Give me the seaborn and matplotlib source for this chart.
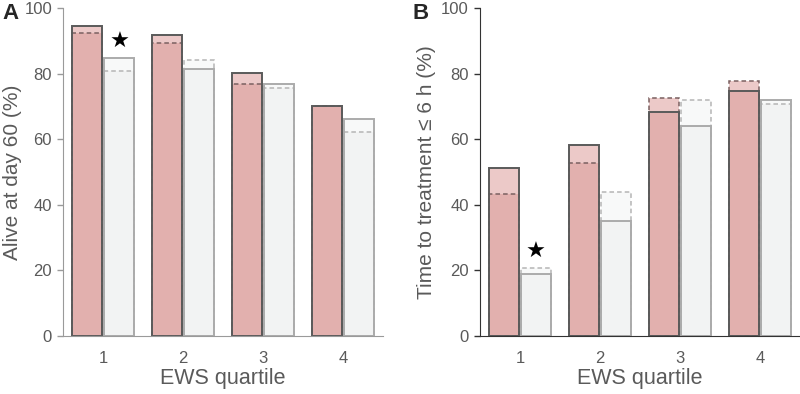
import numpy as np
import pandas as pd
import seaborn as sns
from matplotlib import pyplot as plt

# values (percent)
quartiles = ['1', '2', '3', '4']
groups = ['Group 1', 'Group 2']

# panel A: alive at day 60
alive_solid_g1 = [94.6, 91.8, 80.3, 70.1]
alive_dashed_g1 = [92.3, 89.4, 76.9, 70.1]
alive_solid_g2 = [84.6, 81.4, 76.8, 66.1]
alive_dashed_g2 = [80.9, 84.2, 75.5, 62.1]

# panel B: time to treatment <= 6 h
ttt_solid_g1 = [51.1, 58.2, 68.3, 74.8]
ttt_dashed_g1 = [43.4, 52.7, 72.4, 77.6]
ttt_solid_g2 = [18.9, 35.2, 63.9, 71.9]
ttt_dashed_g2 = [20.8, 43.9, 71.9, 70.7]

star_a = 89.5
star_b = 25.7

sns.set_style('ticks')
plt.rcParams['font.family'] = ['Liberation Sans', 'DejaVu Sans']

full_cols = ['#e2b0ae', '#f2f3f3']
light_cols = ['#ecc9c8', '#f8f9f9']
edge_cols = ['#5a5a5a', '#ababab']
dash_cols = ['#7a6060', '#b5b5b5']
text_col = '#5a5a5a'


def make_df(s1, d1, s2, d2):
    df = pd.DataFrame({
        'quartile': quartiles * 2,
        'group': [groups[0]] * 4 + [groups[1]] * 4,
        'solid': s1 + s2,
        'dashed': d1 + d2,
    })
    df['top'] = df[['solid', 'dashed']].max(axis=1)
    df['low'] = df[['solid', 'dashed']].min(axis=1)
    return df


def draw_panel(ax, df):
    kw = dict(x='quartile', hue='group', order=quartiles, hue_order=groups,
              width=0.8, gap=0.07, saturation=1, legend=False, ax=ax)
    sns.barplot(data=df, y='top', palette=light_cols, linewidth=0, **kw)
    sns.barplot(data=df, y='low', palette=full_cols, linewidth=0, **kw)
    sns.barplot(data=df, y='dashed', palette=dash_cols, fill=False,
                linewidth=1.1, linestyle=(0, (3, 2)), **kw)
    sns.barplot(data=df, y='solid', palette=edge_cols, fill=False,
                linewidth=1.4, **kw)
    ax.set_ylim(0, 100)
    ax.set_xlim(-0.5, 3.5)
    ax.set_yticks([0, 20, 40, 60, 80, 100])
    ax.tick_params(axis='x', length=0, pad=11, labelsize=12, labelcolor=text_col)
    ax.tick_params(axis='y', length=4, width=1, pad=4, labelsize=12,
                   labelcolor=text_col)
    ax.set_xlabel('EWS quartile', fontsize=15.5, color=text_col, labelpad=1)
    sns.despine(ax=ax)


fig = plt.figure(figsize=(8, 3.94), dpi=100)
ax_a = fig.add_axes([0.079, 0.147, 0.400, 0.833])
ax_b = fig.add_axes([0.600, 0.147, 0.400, 0.833])

df_a = make_df(alive_solid_g1, alive_dashed_g1, alive_solid_g2, alive_dashed_g2)
df_b = make_df(ttt_solid_g1, ttt_dashed_g1, ttt_solid_g2, ttt_dashed_g2)

draw_panel(ax_a, df_a)
draw_panel(ax_b, df_b)

ax_a.set_ylabel('Alive at day 60 (%)', fontsize=15, color=text_col, labelpad=2)
ax_b.set_ylabel('Time to treatment ≤ 6 h (%)', fontsize=15, color=text_col, labelpad=4)

for sp in ['left', 'bottom']:
    ax_a.spines[sp].set_color('#9a9a9a')
    ax_b.spines[sp].set_color('#333333')
ax_a.tick_params(axis='y', color='#9a9a9a')
ax_b.tick_params(axis='y', color='#333333')

# significance stars over the second bar of quartile 1
ax_a.text(0.2, star_a, '★', ha='center', va='center', fontsize=16,
          color='black', family=['DejaVu Sans'])
ax_b.text(0.2, star_b, '★', ha='center', va='center', fontsize=16,
          color='black', family=['DejaVu Sans'])

fig.text(0.003, 0.967, 'A', fontsize=16, fontweight='bold', va='center')
fig.text(0.515, 0.967, 'B', fontsize=16, fontweight='bold', va='center')

fig.savefig('out.png', dpi=100)
